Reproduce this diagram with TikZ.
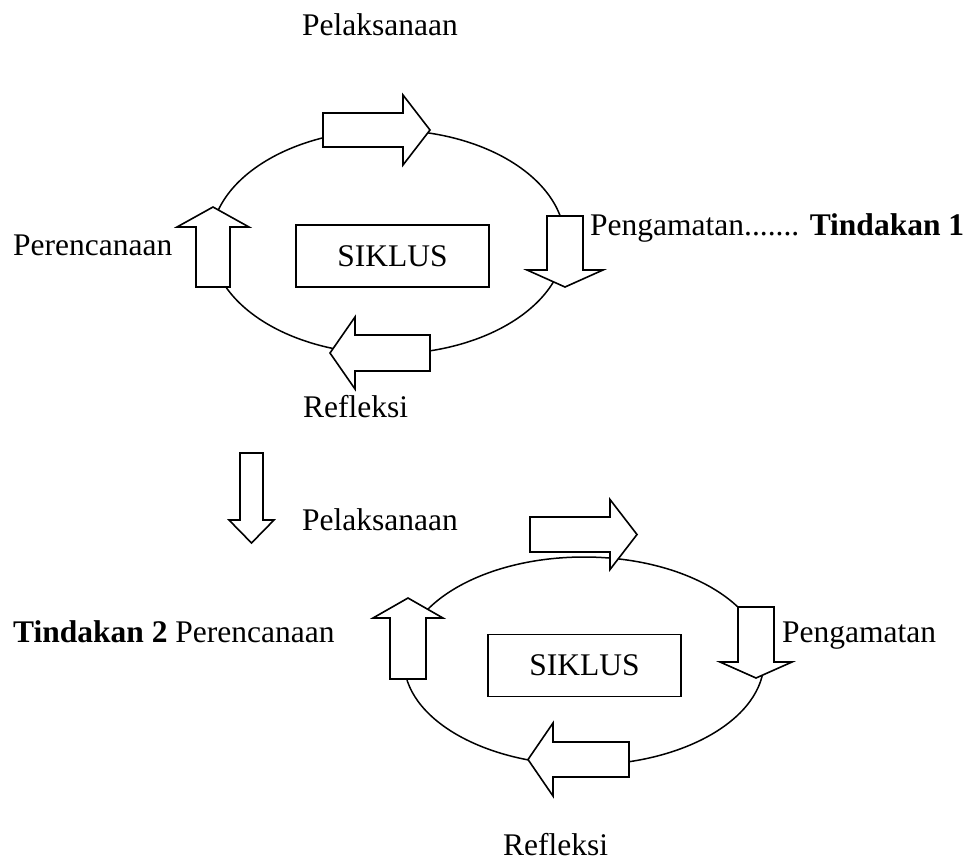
\documentclass[tikz,border=0pt]{standalone}
\usepackage{fontspec}
\setmainfont{Liberation Serif}
\usetikzlibrary{positioning}
\tikzset{
  cyclebox/.style={draw, line width=1.5pt, minimum width=193pt, minimum height=62pt,
                   inner sep=0pt, font=\fontsize{31.5}{36}\selectfont},
  lbl/.style={inner sep=0pt, anchor=base west, font=\fontsize{31.5}{36}\selectfont},
  ring/.style={draw, line width=1.5pt},
  fatarrow/.style={draw, fill=white, line width=1.6pt, line join=miter}
}
% block arrow: tail centre, angle, shaft length, head length, shaft half width, head half width
\newcommand{\blockarrow}[6]{%
  \draw[fatarrow, shift={#1}, rotate=#2]
    (0,-#5) -- (#3,-#5) -- (#3,-#6) -- ({#3+#4},0) -- (#3,#6) -- (#3,#5) -- (0,#5) -- cycle;}

\begin{document}
\begin{tikzpicture}[x=1pt,y=-1pt]
  \useasboundingbox (0,0) rectangle (973,863);

  % first cycle
  \draw[ring] (388,242) ellipse [x radius=177, y radius=112];
  \node[cyclebox] (siklusA) at (392.5,256) {SIKLUS};
  \blockarrow{(323,130)}{0}{80}{27}{17}{35}
  \blockarrow{(565,216)}{-90}{54}{17}{18}{38}
  \blockarrow{(430,353)}{180}{75}{25}{18}{36}
  \blockarrow{(213,287)}{90}{60}{20}{17}{36}
  \node[lbl] (plakA) at (302,35) {Pelaksanaan};
  \node[lbl] (amatA) at (590,235) {Pengamatan....... \textbf{Tindakan 1}};
  \node[lbl] (reflA) at (303,417) {Refleksi};
  \node[lbl] (rencA) at (13,255) {Perencanaan};

  % step down to the next cycle
  \blockarrow{(251.5,453)}{-90}{67}{23}{11.5}{22.5}
  \node[lbl] (plakB) at (302,530) {Pelaksanaan};

  % second cycle
  \draw[ring] (584,661) ellipse [x radius=180, y radius=104];
  \node[cyclebox] (siklusB) at (584.5,665.5) {SIKLUS};
  \blockarrow{(530,534.5)}{0}{80}{27}{17.5}{35}
  \blockarrow{(756,607)}{-90}{55}{16}{18}{36}
  \blockarrow{(629,759.5)}{180}{76}{25}{17.5}{36.5}
  \blockarrow{(408,679)}{90}{61}{20}{18}{35}
  \node[lbl] (rencB) at (13,642) {\textbf{Tindakan 2} Perencanaan};
  \node[lbl] (amatB) at (782,642) {Pengamatan};
  \node[lbl] (reflB) at (503,855) {Refleksi};
\end{tikzpicture}
\end{document}
